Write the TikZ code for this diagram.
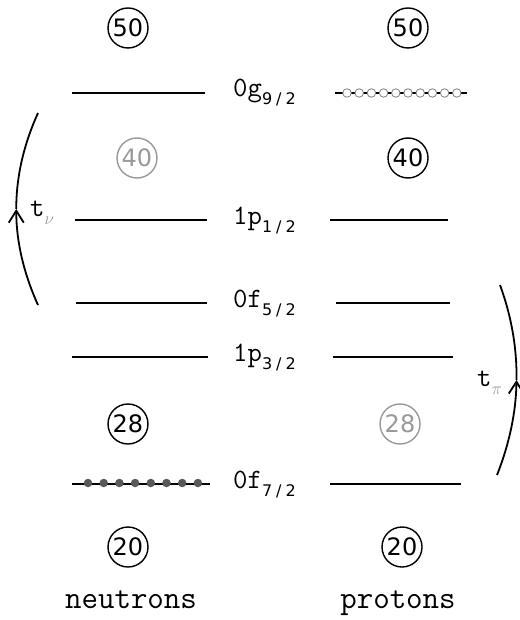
\documentclass[tikz,border=0pt]{standalone}
\usepackage{fontspec}
\setmainfont{DejaVu Sans}
\newfontfamily\subfont{DejaVu Sans}
\usetikzlibrary{arrows.meta}
% subscript for the j values and for the t labels
\newcommand\jsub[1]{\raisebox{-8pt}{\fontsize{16}{16}\subfont #1}}
\newcommand\jfrac[2]{\jsub{#1\hspace{4pt}/\hspace{4pt}#2}}
\definecolor{fade}{gray}{0.6}
\definecolor{dotgray}{gray}{0.35}
\begin{document}
\begin{tikzpicture}[x=1pt,y=-1pt,
  magic/.style={circle,draw,line width=1.4pt,minimum size=40pt,inner sep=0pt,
    font=\fontsize{24}{24}\subfont},
  faded/.style={magic,draw=fade,text=fade},
  levn/.style={line width=1.8pt},
  levp/.style={line width=1.3pt},
  lbl/.style={anchor=base west,inner sep=0pt,font=\fontsize{28}{28}\selectfont\ttfamily},
  side/.style={anchor=base,inner sep=0pt,font=\fontsize{32}{32}\selectfont\ttfamily},
  tlbl/.style={anchor=base west,inner sep=0pt,font=\fontsize{28}{28}\selectfont\ttfamily},
  full/.style={circle,fill=dotgray,minimum size=8.5pt,inner sep=0pt},
  hole/.style={circle,draw=gray,fill=white,line width=0.8pt,minimum size=8.5pt,inner sep=0pt},
  swing/.style={line width=1.8pt},
  swinghead/.style={swing,-{Straight Barb[length=12pt,width=15pt,line width=1.8pt]}}
]
\useasboundingbox (0,0) rectangle (519,620);
\fill[white] (0,0) rectangle (519,620);

% magic numbers
\node[magic] (n50) at (128,28) {50};
\node[magic] (p50) at (408,28) {50};
\node[faded] (n40) at (137,158) {40};
\node[magic] (p40) at (408,158) {40};
\node[magic] (n28) at (128,424) {28};
\node[faded] (p28) at (400,424) {28};
\node[magic] (n20) at (128,547) {20};
\node[magic] (p20) at (402,547) {20};

% level ends
\coordinate (g9nl) at (72,93);  \coordinate (g9nr) at (205,93);
\coordinate (g9pl) at (335,93); \coordinate (g9pr) at (467,93);
\coordinate (p1nl) at (75,220); \coordinate (p1nr) at (207,220);
\coordinate (p1pl) at (330,220);\coordinate (p1pr) at (448,220);
\coordinate (f5nl) at (76,303); \coordinate (f5nr) at (207,303);
\coordinate (f5pl) at (336,303);\coordinate (f5pr) at (450,303);
\coordinate (p3nl) at (72,357); \coordinate (p3nr) at (208,357);
\coordinate (p3pl) at (333,357);\coordinate (p3pr) at (453,357);
\coordinate (f7nl) at (72,484); \coordinate (f7nr) at (210,484);
\coordinate (f7pl) at (330,484);\coordinate (f7pr) at (461,484);

% neutron levels
\draw[levn] (g9nl) -- (g9nr);
\draw[levn] (p1nl) -- (p1nr);
\draw[levn] (f5nl) -- (f5nr);
\draw[levn] (p3nl) -- (p3nr);
\draw[levn] (f7nl) -- (f7nr);
% proton levels
\draw[levp] (g9pl) -- (g9pr);
\draw[levp] (p1pl) -- (p1pr);
\draw[levp] (f5pl) -- (f5pr);
\draw[levp] (p3pl) -- (p3pr);
\draw[levp] (f7pl) -- (f7pr);

% filled neutron 0f7/2 and empty proton 0g9/2
\foreach \i in {0,...,7}
  \node[full] (nd\i) at ({88+15.7*\i},483) {};
\foreach \i in {0,...,9}
  \node[hole] (ph\i) at ({347+12.2*\i},93) {};

% level labels
\node[lbl] (lg9) at (233,97) {0g\jfrac{9}{2}};
\node[lbl] (lp1) at (233,224) {1p\jfrac{1}{2}};
\node[lbl] (lf5) at (233,307) {0f\jfrac{5}{2}};
\node[lbl] (lp3) at (233,361) {1p\jfrac{3}{2}};
\node[lbl] (lf7) at (233,488) {0f\jfrac{7}{2}};

% side captions
\node[side] (neu) at (131,608) {neutrons};
\node[side] (pro) at (398,608) {protons};

% transfer arcs, each drawn in two halves with the head at the middle
\coordinate (tnb) at (38,305); \coordinate (tnm) at (16.25,209); \coordinate (tnt) at (38,113);
\coordinate (tpb) at (497,475); \coordinate (tpm) at (516.5,380); \coordinate (tpt) at (500,285);
\draw[swinghead] (tnb) .. controls (23.5,273) and (16.25,241) .. (tnm);
\draw[swing] (tnm) .. controls (16.25,177) and (23.5,145) .. (tnt);
\draw[swinghead] (tpb) .. controls (509.5,443.5) and (516,411.75) .. (tpm);
\draw[swing] (tpm) .. controls (517,348.25) and (511.5,316.5) .. (tpt);
\node[tlbl] (tnu) at (30,216) {t\textcolor{fade}{\jsub{$\nu$}}};
\node[tlbl] (tpi) at (477,386) {t\textcolor{fade}{\jsub{$\pi$}}};
\end{tikzpicture}
\end{document}
